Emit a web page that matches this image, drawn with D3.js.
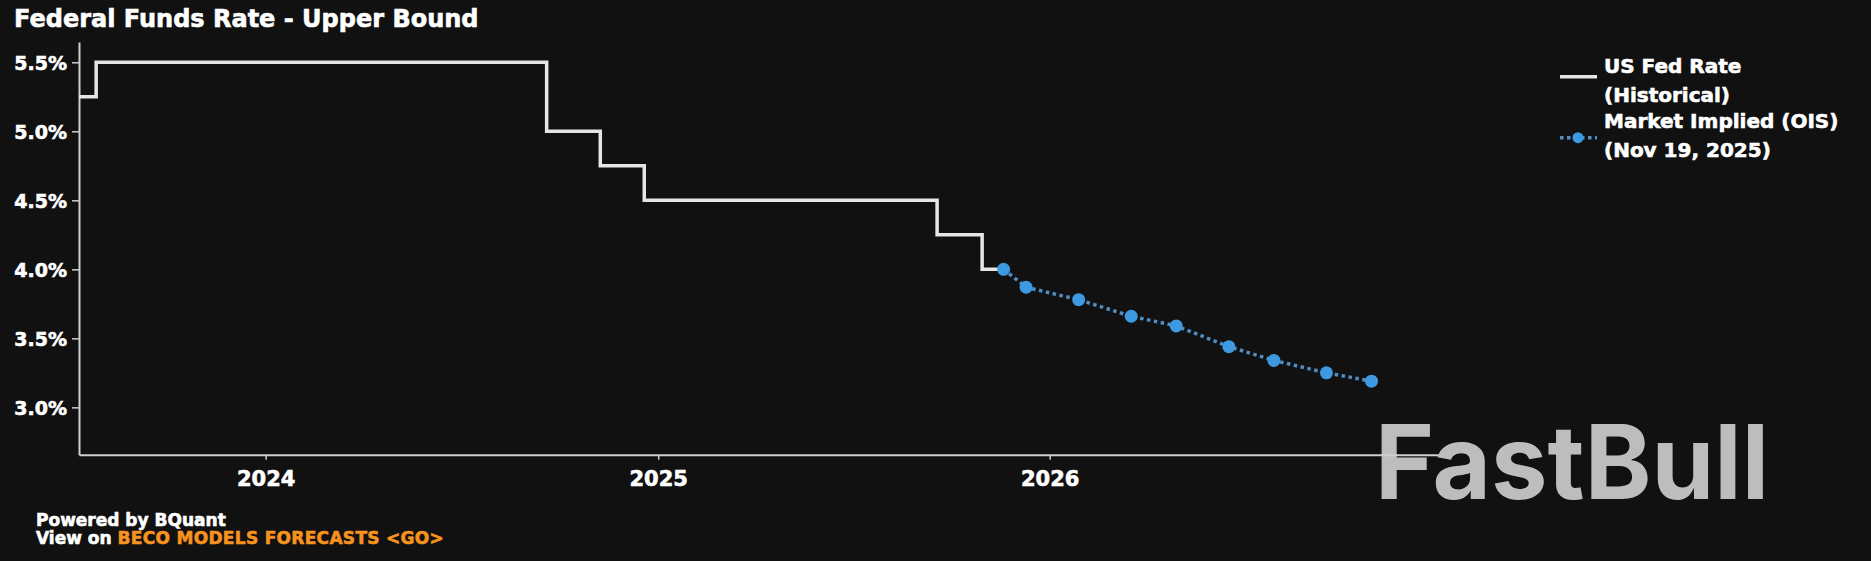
<!DOCTYPE html>
<html>
<head>
<meta charset="utf-8">
<script src="https://cdn.jsdelivr.net/npm/d3@7"></script>
<style>
  html, body { margin: 0; padding: 0; background: #111111; }
  svg { display: block; }
  text { font-family: "DejaVu Sans", sans-serif; font-weight: bold; }
  .heavy { stroke-width: 0.6px; paint-order: stroke; }
</style>
</head>
<body>
<svg id="chart" width="1871" height="561"></svg>
<script>
// ---- data ----
const histDates  = ["2023-07-11", "2023-07-27", "2024-09-19", "2024-11-08", "2024-12-19", "2025-09-18", "2025-10-30", "2025-11-19"];
const histValues = [5.25, 5.50, 5.00, 4.75, 4.50, 4.25, 4.00, 4.00];

const oisDates  = ["2025-11-19", "2025-12-10", "2026-01-28", "2026-03-18", "2026-04-29", "2026-06-17", "2026-07-29", "2026-09-16", "2026-10-28"];
const oisValues = [4.00, 3.87, 3.78, 3.66, 3.59, 3.44, 3.34, 3.25, 3.19];

const yTickValues = [3.0, 3.5, 4.0, 4.5, 5.0, 5.5];
const xTickLabels = ["2024", "2025", "2026"];

const titleText = "Federal Funds Rate - Upper Bound";
const legendLabels = [["US Fed Rate", "(Historical)"], ["Market Implied (OIS)", "(Nov 19, 2025)"]];
const footer1 = "Powered by BQuant";
const footer2a = "View on ";
const footer2b = "BECO MODELS FORECASTS <GO>";
const watermark = "FastBull";

// ---- setup ----
const parse = d3.utcParse("%Y-%m-%d");
const hist = histDates.map((d, i) => ({ date: parse(d), value: histValues[i] }));
const ois = oisDates.map((d, i) => ({ date: parse(d), value: oisValues[i] }));

const svg = d3.select("#chart");
const plotLeft = 79, plotRight = 1438, plotTop = 42, plotBottom = 454.7;

const x = d3.scaleUtc()
  .domain([parse("2023-07-11"), parse("2026-12-29")])
  .range([plotLeft, plotRight]);
const y = d3.scaleLinear()
  .domain([2.657, 5.647])
  .range([plotBottom, plotTop]);

const white = "#e6e6e6";
const blue = "#3d9ae0";
const dotBlue = "#4f8fc4";
const axisColor = "#cfcfcf";

svg.append("rect").attr("width", 1871).attr("height", 561).attr("fill", "#111111");

// watermark
svg.append("text")
  .attr("x", 1375).attr("y", 499)
  .attr("textLength", 394).attr("lengthAdjust", "spacingAndGlyphs")
  .style("font-family", "Inter, 'Noto Sans', sans-serif")
  .style("font-weight", "700")
  .style("font-size", "103px")
  .attr("fill", "#bdbdbd")
  .text(watermark);

// title
svg.append("text")
  .attr("class", "heavy")
  .attr("x", 14).attr("y", 27)
  .style("font-size", "24px")
  .attr("fill", "#ffffff").attr("stroke", "#ffffff")
  .text(titleText);

// axes
const yAxis = d3.axisLeft(y)
  .tickValues(yTickValues)
  .tickSize(7)
  .tickSizeOuter(0)
  .tickPadding(5)
  .tickFormat(d => d.toFixed(1) + "%");
const gy = svg.append("g").attr("transform", `translate(${plotLeft},0)`).call(yAxis);
gy.select(".domain").attr("stroke", axisColor).attr("stroke-width", 2);
gy.selectAll(".tick line").attr("stroke", axisColor).attr("stroke-width", 1.5);
gy.selectAll(".tick text")
  .attr("class", "heavy")
  .attr("fill", "#ffffff").attr("stroke", "#ffffff")
  .style("font-size", "19px")
  .style("font-family", "'DejaVu Sans', sans-serif")
  .style("font-weight", "bold")
  .attr("dy", "0.36em");

const xAxis = d3.axisBottom(x)
  .tickValues(xTickLabels.map(s => parse(s + "-01-01")))
  .tickSize(5)
  .tickSizeOuter(0)
  .tickFormat(d3.utcFormat("%Y"));
const gx = svg.append("g").attr("transform", `translate(0,${plotBottom})`).call(xAxis);
gx.select(".domain").attr("stroke", axisColor).attr("stroke-width", 2);
gx.selectAll(".tick line").attr("stroke", axisColor).attr("stroke-width", 1.5);
gx.selectAll(".tick text")
  .attr("class", "heavy")
  .attr("fill", "#ffffff").attr("stroke", "#ffffff")
  .style("font-size", "21px")
  .style("font-family", "'DejaVu Sans', sans-serif")
  .style("font-weight", "bold")
  .attr("y", 31.8)
  .attr("dy", 0);

// historical step line
const stepLine = d3.line()
  .x(d => x(d.date))
  .y(d => y(d.value))
  .curve(d3.curveStepAfter);
svg.append("path")
  .datum(hist)
  .attr("fill", "none")
  .attr("stroke", white)
  .attr("stroke-width", 3.5)
  .attr("d", stepLine);

// OIS dotted line
const oisLine = d3.line()
  .x(d => x(d.date))
  .y(d => y(d.value));
svg.append("path")
  .datum(ois)
  .attr("fill", "none")
  .attr("stroke", dotBlue)
  .attr("stroke-width", 3.5)
  .attr("stroke-dasharray", "3.5,3.5")
  .attr("d", oisLine);

svg.selectAll("circle.ois")
  .data(ois)
  .join("circle")
  .attr("class", "ois")
  .attr("cx", d => x(d.date))
  .attr("cy", d => y(d.value))
  .attr("r", 6.5)
  .attr("fill", blue);

// legend
const lg = svg.append("g");
lg.append("line")
  .attr("x1", 1560).attr("x2", 1597).attr("y1", 76.7).attr("y2", 76.7)
  .attr("stroke", white).attr("stroke-width", 3.5);
lg.append("line")
  .attr("x1", 1560).attr("x2", 1597).attr("y1", 137.7).attr("y2", 137.7)
  .attr("stroke", dotBlue).attr("stroke-width", 3.5).attr("stroke-dasharray", "3.5,3.5");
lg.append("circle").attr("cx", 1578).attr("cy", 137.7).attr("r", 5.5).attr("fill", blue);

const legendBaselines = [[73.3, 101.7], [128.3, 156.7]];
legendLabels.forEach((lines, i) => {
  lines.forEach((t, j) => {
    lg.append("text")
      .attr("class", "heavy")
      .attr("x", 1604).attr("y", legendBaselines[i][j])
      .style("font-size", "20px")
      .attr("fill", "#ffffff").attr("stroke", "#ffffff")
      .text(t);
  });
});

// footer
svg.append("text")
  .attr("class", "heavy")
  .attr("x", 36).attr("y", 526)
  .style("font-size", "17px")
  .attr("fill", "#ffffff").attr("stroke", "#ffffff")
  .text(footer1);
const f2 = svg.append("text")
  .attr("class", "heavy")
  .attr("x", 36).attr("y", 544.3)
  .style("font-size", "17px")
  .attr("fill", "#ffffff").attr("stroke", "#ffffff");
f2.append("tspan").text(footer2a);
f2.append("tspan").attr("fill", "#f7931e").attr("stroke", "#f7931e")
  .style("letter-spacing", "0.3px").text(footer2b);
</script>
</body>
</html>
